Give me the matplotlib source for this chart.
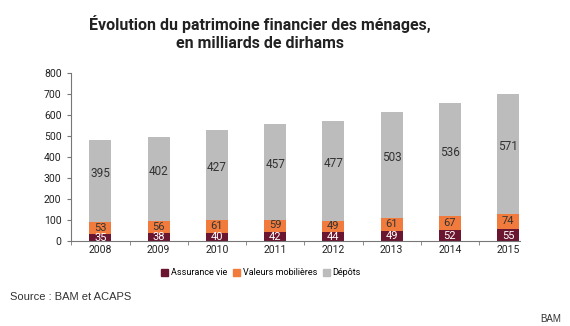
import numpy as np
import matplotlib.pyplot as plt
from matplotlib.patches import Patch

years = ['2008', '2009', '2010', '2011', '2012', '2013', '2014', '2015']
assurance = [35, 38, 40, 42, 44, 49, 52, 55]
valeurs = [53, 56, 61, 59, 49, 61, 67, 74]
depots = [395, 402, 427, 457, 477, 503, 536, 571]

c_ass = '#6a1631'
c_val = '#f07b3c'
c_dep = '#bcbcbc'
narrow = ['Roboto', 'DejaVu Sans']

fig = plt.figure(figsize=(5.7, 3.26), dpi=100)
ax = fig.add_axes([0.125, 0.261, 0.787, 0.515])

x = np.arange(len(years))
a = np.array(assurance)
v = np.array(valeurs)
d = np.array(depots)
w = 0.38
ax.bar(x, a, w, color=c_ass)
ax.bar(x, v, w, bottom=a, color=c_val)
ax.bar(x, d, w, bottom=a + v, color=c_dep)

for i in range(len(years)):
    ax.text(x[i], a[i] / 2 - 2, str(a[i]), ha='center', va='center',
            color='white', fontsize=8, family=narrow)
    ax.text(x[i], a[i] + v[i] / 2 + 2, str(v[i]), ha='center', va='center',
            color='#333333', fontsize=8, family=narrow)
    ax.text(x[i], a[i] + v[i] + d[i] / 2 + 35, str(d[i]), ha='center', va='center',
            color='#333333', fontsize=8.5, family=narrow)

ax.set_ylim(0, 800)
ax.set_xlim(-0.425, 7.2)
ax.set_yticks(range(0, 801, 100))
ax.set_xticks(x)
ax.set_xticklabels(years)
for s in ['top', 'right']:
    ax.spines[s].set_visible(False)
for s in ['left', 'bottom']:
    ax.spines[s].set_color('#777777')
    ax.spines[s].set_linewidth(0.8)
ax.tick_params(axis='y', length=3, color='#777777', labelsize=7.5, pad=4)
ax.tick_params(axis='x', length=3, color='#777777', labelsize=7.5, pad=3)
for lab in ax.get_xticklabels() + ax.get_yticklabels():
    lab.set_family(narrow)
    lab.set_color('#222222')
ax.set_xticks(np.arange(-0.5, 7.5, 1), minor=True)
ax.tick_params(axis='x', which='minor', length=3, color='#777777')
ax.tick_params(axis='x', which='major', length=0)

fig.text(0.456, 0.9, 'Évolution du patrimoine financier des ménages,\nen milliards de dirhams',
         ha='center', va='center', fontsize=11.5, fontweight='bold',
         family=narrow, color='#222222', linespacing=1.25)

handles = [Patch(color=c_ass), Patch(color=c_val), Patch(color=c_dep)]
fig.legend(handles, ['Assurance vie', 'Valeurs mobilières', 'Dépôts'],
           loc='center', bbox_to_anchor=(0.458, 0.163), ncol=3, frameon=False,
           prop={'family': narrow, 'size': 6.5}, handlelength=0.8, handleheight=0.9,
           handletextpad=0.25, columnspacing=0.7)

fig.text(0.018, 0.088, 'Source : BAM et ACAPS', fontsize=8, color='#333333',
         va='center', family=['Liberation Sans', 'DejaVu Sans'])
fig.text(0.985, 0.022, 'BAM', fontsize=7, color='#333333', ha='right', va='center',
         family=['Liberation Sans', 'DejaVu Sans'])

fig.savefig('out.png', dpi=100)
